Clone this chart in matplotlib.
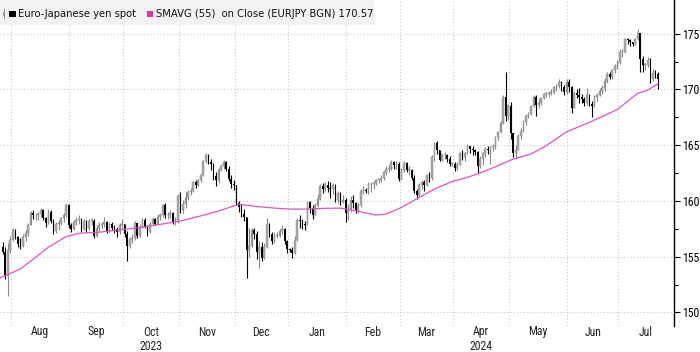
import numpy as np
import pandas as pd
import matplotlib
matplotlib.use("Agg")
import matplotlib.pyplot as plt
from matplotlib import font_manager as fm
from matplotlib.patches import Rectangle
from matplotlib.lines import Line2D
from matplotlib.transforms import blended_transform_factory

# ---------------- data (EUR/JPY daily) ----------------
start_date = "2023-07-26"
end_date = "2024-07-22"
first_open = 155.9

close_jul23 = [155.4, 153.3, 155.6, 156.5]
high_jul23 = [156.3, 155.9, 156.2, 156.9]
low_jul23 = [155.2, 153.0, 151.5, 155.3]

close_aug23 = [157.4, 156.8, 156.1, 156.0, 156.8, 157.1, 157.8, 158.9, 158.7, 158.7, 158.8, 159.2,
               158.5, 158.0, 159.0, 158.2, 157.3, 157.9, 158.0, 158.5, 158.7, 159.6, 157.8]
high_aug23 = [157.6, 157.5, 156.9, 156.7, 157.0, 157.4, 158.0, 159.1, 159.2, 158.9, 159.0, 159.4,
              159.3, 158.6, 159.3, 159.2, 158.4, 158.1, 158.3, 158.6, 158.9, 159.8, 159.7]
low_aug23 = [156.4, 156.6, 155.9, 155.7, 155.9, 156.4, 156.9, 157.8, 158.4, 158.3, 158.3, 158.6,
             158.3, 157.7, 157.9, 158.0, 157.0, 157.1, 157.4, 157.8, 158.1, 158.6, 157.6]

close_sep23 = [157.5, 158.1, 158.3, 158.4, 157.5, 158.2, 157.6, 158.2, 158.2, 156.9, 157.6, 157.8,
               157.9, 158.1, 157.3, 157.9, 157.6, 157.5, 157.2, 157.8, 157.9]
high_sep23 = [158.0, 158.3, 158.6, 158.7, 158.5, 158.4, 158.3, 158.4, 158.5, 158.4, 157.8, 158.1,
              158.1, 158.6, 158.2, 158.1, 158.1, 157.8, 157.7, 158.0, 158.4]
low_sep23 = [157.2, 157.4, 157.8, 157.9, 157.2, 157.4, 157.2, 157.4, 157.8, 156.7, 156.8, 157.3,
             157.5, 157.7, 157.1, 157.2, 157.4, 157.1, 156.8, 157.0, 157.5]

close_oct23 = [157.0, 156.0, 156.6, 156.7, 158.0, 156.9, 157.7, 158.3, 157.7, 157.2, 157.9, 158.4,
               157.9, 158.6, 158.7, 159.6, 158.7, 158.7, 158.9, 158.1, 158.3, 160.4]
high_oct23 = [157.9, 157.3, 156.8, 157.0, 158.2, 158.0, 157.9, 158.5, 158.5, 157.8, 158.1, 158.6,
              158.5, 158.8, 158.9, 159.7, 159.8, 159.0, 159.2, 159.0, 158.6, 160.6]
low_oct23 = [156.8, 154.6, 155.8, 156.2, 156.5, 156.7, 156.8, 157.6, 157.6, 156.9, 157.1, 157.8,
             157.8, 157.8, 158.3, 158.6, 158.5, 158.4, 158.5, 157.9, 157.8, 158.0]

close_nov23 = [159.2, 159.7, 160.3, 160.8, 160.9, 161.7, 161.4, 161.9, 162.3, 163.6, 164.1, 163.5,
               163.3, 162.2, 161.9, 162.8, 163.1, 163.5, 162.9, 162.0, 161.5, 161.4]
high_nov23 = [160.8, 160.1, 160.8, 161.0, 161.2, 161.8, 161.9, 162.0, 162.4, 163.7, 164.3, 164.2,
              163.8, 163.4, 162.6, 163.0, 163.3, 163.7, 163.6, 163.1, 162.3, 161.9]
low_nov23 = [158.9, 158.9, 159.4, 160.1, 160.5, 160.8, 161.2, 161.3, 161.7, 162.2, 163.4, 163.3,
             162.8, 161.9, 161.3, 161.6, 162.7, 162.9, 162.7, 161.8, 161.2, 161.0]

close_dec23 = [159.8, 159.5, 158.8, 158.6, 155.6, 156.0, 157.4, 157.0, 155.4, 155.9, 154.9, 155.9,
               157.9, 157.0, 156.4, 156.9, 156.9, 157.3, 157.5, 156.4, 155.7]
high_dec23 = [161.2, 160.0, 159.7, 159.3, 158.6, 157.6, 157.6, 157.6, 157.3, 156.4, 156.3, 156.2,
              158.5, 158.0, 157.2, 157.2, 157.2, 157.5, 157.8, 157.6, 156.5]
low_dec23 = [159.6, 159.0, 158.6, 158.2, 153.1, 155.0, 155.9, 156.6, 154.8, 154.0, 154.6, 154.8,
             155.8, 156.8, 156.1, 156.2, 156.7, 156.8, 157.0, 156.1, 155.3]

close_jan24 = [155.6, 155.3, 156.5, 158.3, 158.2, 157.9, 157.8, 159.9, 159.4, 158.7, 159.6, 160.2,
               161.3, 161.1, 161.4, 161.2, 161.1, 161.4, 160.1, 160.7, 159.9, 160.1, 158.9]
high_jan24 = [155.8, 155.9, 156.9, 158.5, 158.7, 158.4, 158.2, 160.0, 160.0, 159.6, 159.8, 160.6,
              161.5, 161.6, 161.7, 161.8, 161.7, 161.6, 161.5, 160.9, 160.8, 160.5, 160.3]
low_jan24 = [155.4, 154.9, 155.2, 156.4, 157.6, 157.5, 157.4, 157.8, 158.9, 158.4, 158.7, 159.5,
             160.1, 160.7, 160.9, 160.8, 160.3, 160.6, 159.9, 159.8, 159.6, 159.8, 158.1]

close_feb24 = [159.3, 160.1, 159.8, 159.1, 159.6, 160.9, 161.0, 160.9, 161.5, 161.5, 161.6, 161.9,
               161.9, 162.1, 162.6, 162.9, 162.9, 163.5, 163.2, 163.3, 162.0]
high_feb24 = [159.7, 160.4, 160.5, 159.9, 159.8, 161.1, 161.3, 161.2, 161.7, 161.7, 161.8, 162.0,
              162.1, 162.3, 162.7, 163.1, 163.2, 163.7, 163.6, 163.6, 163.5]
low_feb24 = [158.3, 159.0, 159.4, 158.9, 158.9, 159.5, 160.6, 160.7, 160.6, 160.8, 161.1, 161.4,
             161.6, 161.7, 161.9, 162.3, 162.6, 162.8, 162.9, 162.9, 161.8]

close_mar24 = [162.7, 163.4, 162.8, 162.8, 162.1, 160.9, 160.5, 161.4, 161.7, 161.4, 162.3, 162.1,
               163.9, 165.2, 164.6, 163.7, 164.1, 164.1, 163.8, 163.3, 163.3]
high_mar24 = [163.0, 163.6, 163.5, 163.1, 162.9, 162.3, 161.1, 161.6, 161.9, 161.9, 162.4, 162.6,
              164.1, 165.3, 165.4, 164.6, 164.3, 164.4, 164.2, 164.0, 163.5]
low_mar24 = [161.9, 162.6, 162.6, 162.3, 161.9, 160.7, 160.2, 160.4, 161.1, 160.9, 161.3, 161.7,
             161.9, 163.6, 164.2, 163.6, 163.6, 163.8, 163.5, 163.1, 163.1]

close_apr24 = [163.0, 163.2, 164.3, 163.9, 164.3, 164.9, 164.7, 164.6, 164.4, 163.1, 163.8, 164.3,
               164.7, 164.6, 164.8, 164.9, 165.7, 166.2, 167.0, 169.3, 167.6, 168.5]
high_apr24 = [163.5, 163.5, 164.4, 164.6, 164.4, 165.1, 164.9, 164.9, 164.7, 164.5, 164.0, 164.4,
              164.8, 164.9, 164.9, 165.1, 165.8, 166.3, 167.2, 169.5, 171.6, 168.7]
low_apr24 = [162.7, 162.8, 163.2, 163.7, 163.6, 164.2, 164.3, 164.1, 164.1, 162.5, 163.0, 163.2,
             163.9, 164.2, 163.3, 164.5, 164.7, 165.5, 166.1, 166.9, 167.2, 167.3]

close_may24 = [166.1, 164.3, 164.6, 165.8, 166.3, 167.1, 167.6, 167.8, 168.5, 169.3, 168.6, 168.8,
               169.2, 169.6, 169.6, 169.7, 169.8, 170.2, 170.3, 170.7, 170.2, 169.8, 170.7]
high_may24 = [168.9, 165.6, 165.0, 166.0, 166.5, 167.3, 167.8, 168.0, 168.6, 169.5, 169.5, 169.2,
              169.3, 169.7, 169.8, 169.9, 170.0, 170.3, 170.5, 170.9, 170.8, 170.4, 170.9]
low_may24 = [165.6, 163.9, 163.8, 164.7, 165.6, 166.2, 166.8, 167.4, 167.7, 168.4, 167.6, 168.3,
             168.6, 169.1, 169.3, 169.3, 169.5, 169.6, 169.9, 170.1, 169.9, 169.5, 169.6]

close_jun24 = [170.2, 168.3, 169.7, 169.5, 169.3, 169.1, 168.8, 169.5, 168.7, 168.5, 169.3, 169.5,
               169.9, 170.1, 170.8, 171.4, 171.1, 171.7, 172.1, 172.4]
high_jun24 = [170.9, 170.3, 169.9, 170.0, 170.1, 169.6, 169.3, 170.1, 169.6, 169.0, 169.5, 169.7,
              170.1, 170.4, 171.0, 171.6, 171.6, 171.8, 172.3, 172.6]
low_jun24 = [169.8, 167.9, 168.3, 169.2, 168.8, 168.8, 168.5, 168.6, 168.5, 167.5, 168.4, 169.0,
             169.4, 169.6, 169.9, 170.6, 170.9, 170.9, 171.5, 171.8]

close_jul24 = [173.4, 173.4, 174.5, 174.4, 174.3, 174.1, 174.5, 175.1, 172.7, 172.2, 172.2, 172.6,
               170.9, 171.5, 171.4, 170.9]
high_jul24 = [173.6, 173.6, 174.6, 174.6, 174.5, 174.3, 174.6, 175.4, 175.1, 173.0, 172.4, 172.9,
              172.8, 171.8, 171.7, 171.6]
low_jul24 = [172.3, 172.9, 173.3, 174.1, 173.9, 173.9, 174.0, 174.4, 171.6, 171.6, 171.7, 172.0,
             170.6, 170.8, 171.0, 170.0]

# 55-day simple moving average
sma_dates = ["2023-07-25", "2023-07-31", "2023-08-04", "2023-08-14", "2023-08-21", "2023-08-30",
             "2023-09-06", "2023-09-18", "2023-09-28", "2023-10-10", "2023-10-20", "2023-11-01",
             "2023-11-10", "2023-11-22", "2023-12-04", "2023-12-13", "2023-12-22", "2024-01-01",
             "2024-01-10", "2024-01-18", "2024-01-29", "2024-02-06", "2024-02-16", "2024-02-22",
             "2024-03-01", "2024-03-12", "2024-03-20", "2024-03-29", "2024-04-08", "2024-04-15",
             "2024-04-24", "2024-05-02", "2024-05-13", "2024-05-21", "2024-05-31", "2024-06-13",
             "2024-06-28", "2024-07-10", "2024-07-16", "2024-07-22"]
sma_values = [153.1, 153.5, 153.9, 154.95, 155.85, 156.8,
              157.1, 157.2, 157.4, 157.6, 157.9, 158.2,
              158.6, 159.1, 159.7, 159.5, 159.36, 159.27,
              159.27, 159.33, 159.36, 159.12, 158.73, 158.83,
              159.42, 160.32, 161.07, 161.75, 162.12, 162.51,
              163.16, 163.76, 164.21, 164.96, 166.2, 167.05,
              168.2, 169.65, 169.95, 170.5]

month_names = ["Aug", "Sep", "Oct", "Nov", "Dec", "Jan", "Feb", "Mar", "Apr", "May", "Jun", "Jul"]
month_starts = ["2023-08-01", "2023-09-01", "2023-10-01", "2023-11-01", "2023-12-01", "2024-01-01",
                "2024-02-01", "2024-03-01", "2024-04-01", "2024-05-01", "2024-06-01", "2024-07-01"]
year_labels = {"Oct": "2023", "Apr": "2024"}
y_ticks = [150, 155, 160, 165, 170, 175]
legend_series = "Euro-Japanese yen spot"
legend_sma = "SMAVG (55)  on Close (EURJPY BGN) 170.57"

# ---------------- assemble ----------------
close = np.array(close_jul23 + close_aug23 + close_sep23 + close_oct23 + close_nov23 + close_dec23 +
                 close_jan24 + close_feb24 + close_mar24 + close_apr24 + close_may24 + close_jun24 + close_jul24)
high = np.array(high_jul23 + high_aug23 + high_sep23 + high_oct23 + high_nov23 + high_dec23 +
                high_jan24 + high_feb24 + high_mar24 + high_apr24 + high_may24 + high_jun24 + high_jul24)
low = np.array(low_jul23 + low_aug23 + low_sep23 + low_oct23 + low_nov23 + low_dec23 +
               low_jan24 + low_feb24 + low_mar24 + low_apr24 + low_may24 + low_jun24 + low_jul24)
opn = np.concatenate([[first_open], close[:-1]])
high = np.maximum(high, np.maximum(opn, close))
low = np.minimum(low, np.minimum(opn, close))

dates = pd.bdate_range(start_date, end_date)
assert len(dates) == len(close), (len(dates), len(close))
xi = np.arange(len(dates))

def bidx(d):
    return int(np.busday_count(np.datetime64(start_date), np.datetime64(d)))

sma_x = np.array([bidx(d) for d in sma_dates])

# ---------------- fonts ----------------
def pick(fams):
    for f in fams:
        try:
            fm.findfont(fm.FontProperties(family=f), fallback_to_default=False)
            return f
        except Exception:
            pass
    return "DejaVu Sans"

axis_font = pick(["Liberation Sans Narrow", "Arial Narrow", "Roboto Condensed", "Liberation Sans"])
legend_font = pick(["DejaVu Sans"])

# ---------------- figure ----------------
W, H = 700, 352
fig = plt.figure(figsize=(W / 100, H / 100), dpi=100)
ax_bottom_px = 326
ax = fig.add_axes([0, (H - ax_bottom_px) / H, 674 / W, ax_bottom_px / H])

px_per_unit = 11.15
y175 = 33.7
ytop = 175 + y175 / px_per_unit
ybot = 175 - (ax_bottom_px - y175) / px_per_unit
ax.set_ylim(ybot, ytop)
ax.set_xlim(-1.05, 264.3)

grid_col = "#c9c9c9"
for yv in y_ticks:
    ax.axhline(yv, color=grid_col, lw=0.8, ls=(0, (1, 2)), zorder=0)

grid_x = [bidx(d) - 0.7 for d in month_starts]
for gx in grid_x:
    ax.axvline(gx, color=grid_col, lw=0.8, ls=(0, (1, 2)), zorder=0)

# candles
up = close >= opn
body_lo = np.minimum(opn, close)
body_h = np.maximum(np.abs(close - opn), 0.06)
up_face = "#a9a9a9"
up_edge = "#888888"
ax.vlines(xi[up], low[up], high[up], colors=up_edge, lw=0.8, zorder=2)
ax.vlines(xi[~up], low[~up], high[~up], colors="black", lw=0.8, zorder=2)
ax.bar(xi[up], body_h[up], bottom=body_lo[up], width=0.66, color=up_face,
       edgecolor=up_edge, linewidth=0.3, zorder=3)
ax.bar(xi[~up], body_h[~up], bottom=body_lo[~up], width=0.66, color="black",
       linewidth=0, zorder=3)

# SMA
sma_col = "#e255b8"
ax.plot(sma_x, sma_values, color=sma_col, lw=0.9, zorder=4)

# axes styling
for s in ["top", "left", "bottom"]:
    ax.spines[s].set_visible(False)
ax.spines["right"].set_color("black")
ax.spines["right"].set_linewidth(1.0)
ax.yaxis.tick_right()
ax.set_yticks(y_ticks)
ax.set_yticks(np.arange(152.5, 176, 5), minor=True)
ax.tick_params(axis="y", which="major", direction="out", length=4, width=0.8, pad=2,
               labelsize=8.5, colors="black")
ax.tick_params(axis="y", which="minor", direction="out", length=3, width=0.8)
for t in ax.get_yticklabels():
    t.set_fontfamily(axis_font)
ax.set_xticks([])
ax.patch.set_alpha(0)

# month labels
tr = blended_transform_factory(ax.transData, fig.transFigure)
bounds = grid_x + [ax.get_xlim()[1]]
for k, name in enumerate(month_names):
    cx = (bounds[k] + bounds[k + 1]) / 2
    fig.text(cx, 1 - 332 / H, name, transform=tr, ha="center", va="center",
             fontsize=8.5, family=axis_font, color="#222222")
    if name in year_labels:
        fig.text(cx, 1 - 346 / H, year_labels[name], transform=tr, ha="center", va="center",
                 fontsize=8.5, family=axis_font, color="#222222")

# legend (Bloomberg style header)
def fx(p):
    return p / W

def fy(p):
    return 1 - p / H

fig.patches.append(Rectangle((0, fy(25)), fx(374), 25 / H, transform=fig.transFigure,
                             facecolor="#f2f2f2", edgecolor="none", zorder=5))
# small candle icon
fig.lines.append(Line2D([fx(3.5), fx(3.5)], [fy(9), fy(18)], transform=fig.transFigure,
                        color="#999999", lw=0.8, zorder=6))
fig.patches.append(Rectangle((fx(2.5), fy(15.5)), fx(2), 4 / H, transform=fig.transFigure,
                             facecolor="#999999", edgecolor="none", zorder=6))
fig.patches.append(Rectangle((fx(9.3), fy(17.3)), fx(6.6), 6.6 / H, transform=fig.transFigure,
                             facecolor="black", edgecolor="none", zorder=6))
fig.text(fx(17.5), fy(14), legend_series, ha="left", va="center", fontsize=7.2,
         family=legend_font, color="#111111", zorder=7)
fig.patches.append(Rectangle((fx(146.5), fy(17.3)), fx(6.6), 6.6 / H, transform=fig.transFigure,
                             facecolor="#d8389f", edgecolor="none", zorder=6))
fig.text(fx(155.5), fy(14), legend_sma, ha="left", va="center", fontsize=7.2,
         family=legend_font, color="#111111", zorder=7)

fig.savefig("out.png", dpi=100)
